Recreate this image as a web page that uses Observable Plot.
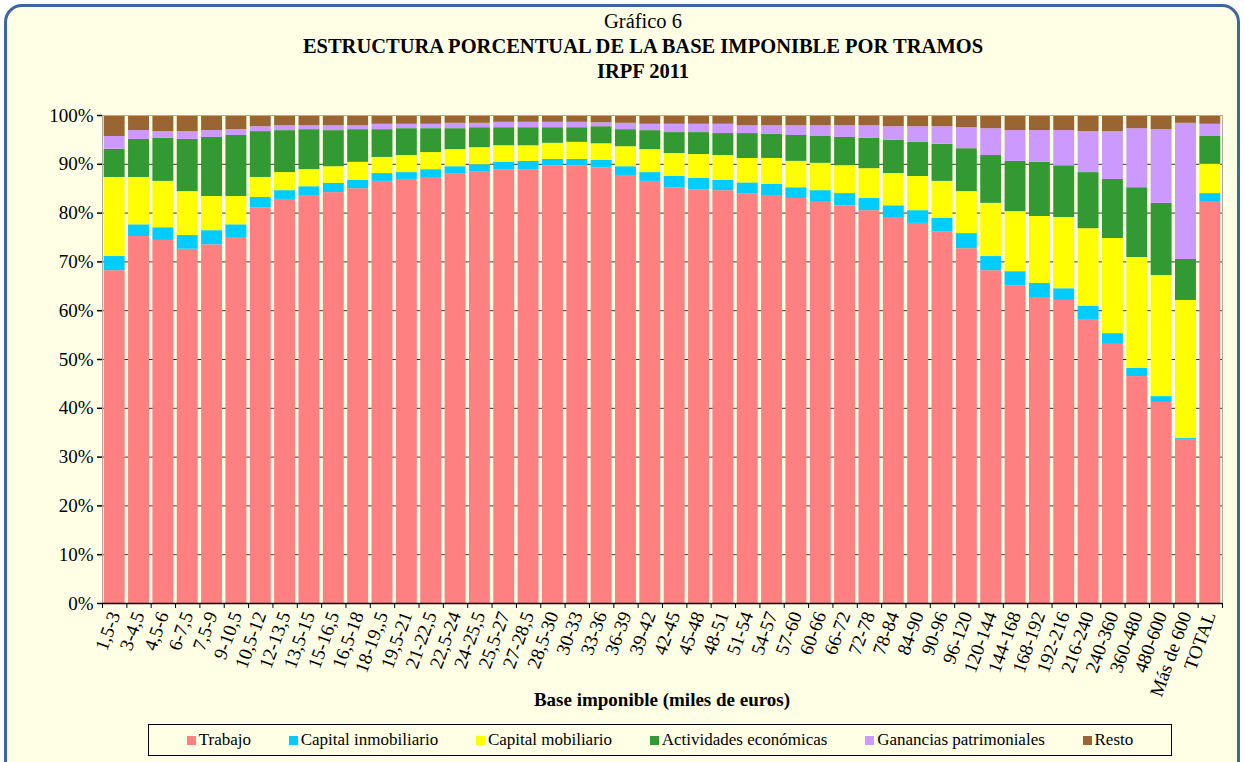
<!DOCTYPE html>
<html>
<head>
<meta charset="utf-8">
<script src="https://cdn.jsdelivr.net/npm/d3@7"></script>
<script src="https://cdn.jsdelivr.net/npm/@observablehq/plot@0.6"></script>
<style>
  html, body { margin: 0; padding: 0; width: 1244px; height: 762px; overflow: hidden; background: #ffffff; }
  #page { position: relative; width: 1244px; height: 762px; overflow: hidden; font-family: "Liberation Serif", "Times New Roman", serif; }
  #frame { position: absolute; left: 4px; top: 4px; width: 1230px; height: 800px; border: 3px solid #3f64a0; border-radius: 18px; background: #ffffe6; }
  #title { position: absolute; left: 0; width: 1286px; top: 9px; text-align: center; color: #000; font-size: 20.5px; line-height: 25px; }
  #title .b { font-weight: bold; }
  #chart { position: absolute; left: 0; top: 0; }
  #xlabel { position: absolute; left: 102px; width: 1120px; top: 688px; text-align: center; font-weight: bold; font-size: 19px; line-height: 24px; }
  #legend { position: absolute; left: 148px; top: 724px; width: 1022px; height: 30px; border: 1px solid #000; display: flex; justify-content: space-evenly; align-items: center; font-size: 17px; }
  #legend .item { display: flex; align-items: center; white-space: nowrap; }
  #legend .sw { width: 9px; height: 9px; margin-right: 3px; }
</style>
</head>
<body>
<div id="page">
  <div id="frame"></div>
  <div id="chart"></div>
  <div id="title">Gráfico 6<br><span class="b">ESTRUCTURA PORCENTUAL DE LA BASE IMPONIBLE POR TRAMOS</span><br><span class="b">IRPF 2011</span></div>
  <div id="xlabel">Base imponible (miles de euros)</div>
  <div id="legend"></div>
</div>
<script>
const tramos = ["1,5-3","3-4,5","4,5-6","6-7,5","7,5-9","9-10,5","10,5-12","12-13,5","13,5-15","15-16,5","16,5-18","18-19,,5","19,5-21","21-22,5","22,5-24","24-25,5","25,5-27","27-28,5","28,5-30","30-33","33-36","36-39","39-42","42-45","45-48","48-51","51-54","54-57","57-60","60-66","66-72","72-78","78-84","84-90","90-96","96-120","120-144","144-168","168-192","192-216","216-240","240-360","360-480","480-600","Más de 600","TOTAL"];

const series = ["Trabajo","Capital inmobiliario","Capital mobiliario","Actividades económicas","Ganancias patrimoniales","Resto"];
const colores = ["#ff8080","#00ccff","#ffff00","#339933","#cc99ff","#996633"];

const trabajo = [68.2,75.2,74.4,72.6,73.5,75.0,81.1,82.8,83.6,84.2,85.0,86.5,86.9,87.3,88.1,88.5,88.9,88.9,89.7,89.7,89.3,87.7,86.5,85.2,84.8,84.6,83.8,83.6,83.0,82.2,81.5,80.5,79.1,77.9,76.2,72.7,68.2,65.1,62.7,62.1,58.2,53.1,46.5,41.2,33.6,82.2];
const capInmobiliario = [2.9,2.4,2.6,2.8,2.9,2.6,2.1,1.8,1.8,1.9,1.7,1.6,1.4,1.6,1.4,1.4,1.5,1.7,1.3,1.3,1.5,1.8,1.8,2.3,2.3,2.1,2.3,2.3,2.2,2.4,2.5,2.5,2.4,2.6,2.7,3.1,2.9,2.9,2.9,2.4,2.7,2.2,1.7,1.2,0.2,1.8];
const capMobiliario = [16.2,9.7,9.5,9.0,7.0,5.8,4.1,3.7,3.5,3.4,3.7,3.3,3.5,3.5,3.5,3.5,3.4,3.2,3.3,3.5,3.4,4.1,4.7,4.7,4.9,5.1,5.0,5.3,5.4,5.6,5.7,6.1,6.6,7.0,7.6,8.6,10.9,12.3,13.7,14.6,15.9,19.5,22.7,24.8,28.3,6.0];
const actividades = [5.8,7.8,8.8,10.7,12.1,12.5,9.4,8.6,8.2,7.4,6.7,5.7,5.5,4.9,4.3,4.1,3.7,3.7,3.2,3.0,3.5,3.5,3.9,4.3,4.5,4.5,5.1,4.9,5.3,5.5,5.8,6.2,6.8,7.0,7.6,8.8,9.8,10.3,11.1,10.6,11.5,12.1,14.3,14.8,8.4,5.7];
const ganancias = [2.6,1.8,1.4,1.6,1.4,1.2,1.0,1.0,0.8,1.0,0.8,1.1,0.9,0.9,1.1,0.9,1.1,1.1,1.1,1.1,0.8,1.3,1.3,1.7,1.7,1.9,1.6,1.8,2.0,2.2,2.4,2.6,2.8,3.2,3.6,4.3,5.5,6.3,6.5,7.2,8.4,9.8,12.1,15.1,27.9,2.5];
const resto = [4.3,3.1,3.3,3.3,3.1,2.9,2.3,2.1,2.1,2.1,2.1,1.8,1.8,1.8,1.6,1.6,1.4,1.4,1.4,1.4,1.5,1.6,1.8,1.8,1.8,1.8,2.1,2.1,2.1,2.1,2.1,2.1,2.3,2.3,2.3,2.5,2.7,3.1,3.1,3.1,3.3,3.3,2.7,2.9,1.6,1.8];

const yTicks = [0,10,20,30,40,50,60,70,80,90,100];

const valores = [trabajo, capInmobiliario, capMobiliario, actividades, ganancias, resto];
const data = [];
tramos.forEach((t, i) => {
  series.forEach((s, k) => data.push({tramo: t, serie: s, value: valores[k][i]}));
});

const W = 1244, H = 720, mL = 102, mR = 22, mT = 115, mB = 117;
const xOpts = {type: "band", domain: tramos, paddingInner: 0.14, paddingOuter: 0.07, round: false};
const xScale = Plot.scale({x: {...xOpts, range: [mL, W - mR]}});
const step = xScale.step;
const font = "'Liberation Serif', 'Times New Roman', serif";
const yFrac = yTicks.map(d => d / 100);

const chart = Plot.plot({
  width: W, height: H,
  marginLeft: mL, marginRight: mR, marginTop: mT, marginBottom: mB,
  style: {background: "transparent", fontFamily: font, fontSize: "19px", color: "#000", overflow: "visible"},
  x: {...xOpts, label: null},
  y: {domain: [0, 1], label: null},
  color: {domain: series, range: colores},
  marks: [
    Plot.ruleY(yFrac.slice(1, -1), {stroke: "#333", strokeWidth: 1}),
    Plot.barY(data, {x: "tramo", y: "value", fill: "serie", order: series, offset: "normalize"}),
    Plot.frame({stroke: "#aaa"}),
    Plot.ruleY([0], {stroke: "#000", strokeWidth: 1.5}),
    Plot.axisY({ticks: yFrac, tickFormat: d => Math.round(d * 100) + "%", tickSize: 5, tickPadding: 4, fontSize: 19, label: null, line: true, strokeWidth: 1.5}),
    Plot.axisX({tickSize: 5, text: null, dx: -step / 2, label: null}),
    Plot.axisX([tramos[tramos.length - 1]], {tickSize: 5, text: null, dx: step / 2, label: null}),
    Plot.axisX({tickSize: 0, tickPadding: 9, tickRotate: -70, fontSize: 19, label: null})
  ]
});
document.getElementById("chart").appendChild(chart);

const legend = document.getElementById("legend");
series.forEach((s, k) => {
  const it = document.createElement("div");
  it.className = "item";
  const sw = document.createElement("span");
  sw.className = "sw";
  sw.style.background = colores[k];
  it.appendChild(sw);
  it.appendChild(document.createTextNode(s));
  legend.appendChild(it);
});
</script>
</body>
</html>
